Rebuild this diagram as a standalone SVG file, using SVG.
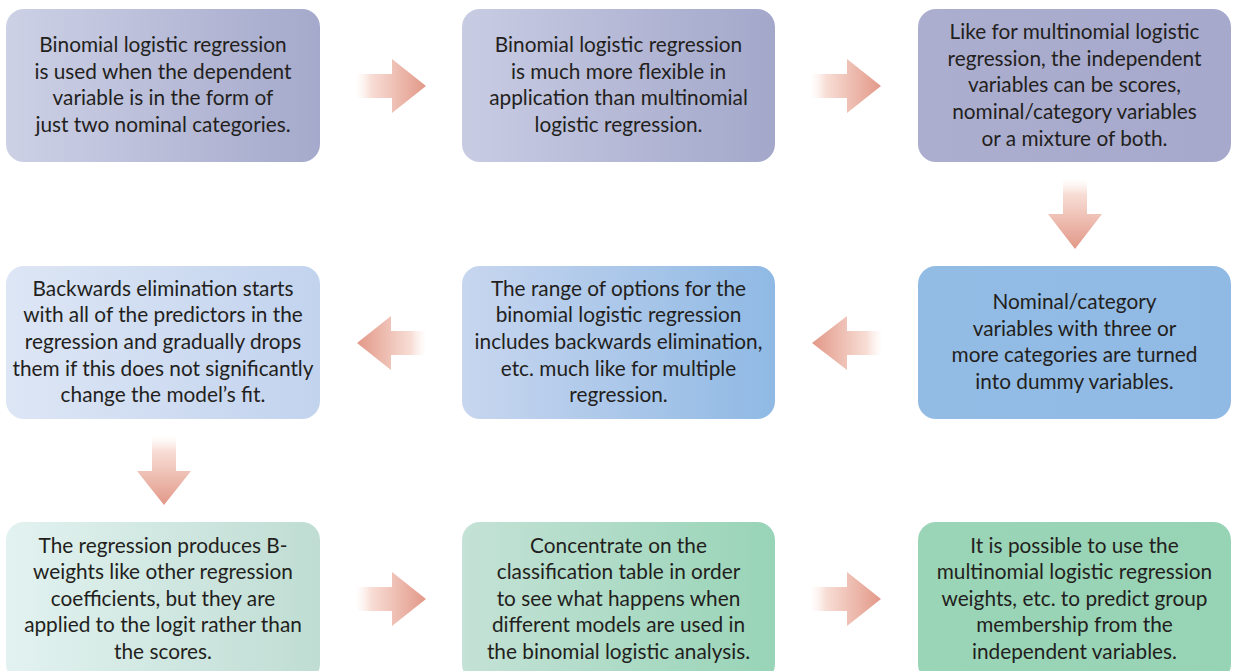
<svg xmlns="http://www.w3.org/2000/svg" width="1236" height="671" viewBox="0 0 1236 671">
  <style>
    .lbl { font-family: Lato, "Open Sans", sans-serif; font-size: 20.8px; fill: #231f20; text-anchor: middle; }
  </style>
  <defs>
    <linearGradient id="g1a" x1="0" y1="0" x2="1" y2="0"><stop offset="0" stop-color="#cdd1e6"/><stop offset="1" stop-color="#a5a9cb"/></linearGradient>
    <linearGradient id="g1b" x1="0" y1="0" x2="1" y2="0"><stop offset="0" stop-color="#c8cce3"/><stop offset="1" stop-color="#a3a7ca"/></linearGradient>
    <linearGradient id="g1c" x1="0" y1="0" x2="1" y2="0"><stop offset="0" stop-color="#acaecf"/><stop offset="1" stop-color="#a6a9cc"/></linearGradient>
    <linearGradient id="g2a" x1="0" y1="0" x2="1" y2="0"><stop offset="0" stop-color="#dde6f5"/><stop offset="1" stop-color="#c2d3ee"/></linearGradient>
    <linearGradient id="g2b" x1="0" y1="0" x2="1" y2="0"><stop offset="0" stop-color="#c8d6ef"/><stop offset="1" stop-color="#8fb9e4"/></linearGradient>
    <linearGradient id="g2c" x1="0" y1="0" x2="1" y2="0"><stop offset="0" stop-color="#93bce5"/><stop offset="1" stop-color="#90bae4"/></linearGradient>
    <linearGradient id="g3a" x1="0" y1="0" x2="1" y2="0"><stop offset="0" stop-color="#e2f2f0"/><stop offset="1" stop-color="#bfddd3"/></linearGradient>
    <linearGradient id="g3b" x1="0" y1="0" x2="1" y2="0"><stop offset="0" stop-color="#c4e2d6"/><stop offset="1" stop-color="#98d4b7"/></linearGradient>
    <linearGradient id="g3c" x1="0" y1="0" x2="1" y2="0"><stop offset="0" stop-color="#9bd5b8"/><stop offset="1" stop-color="#97d3b5"/></linearGradient>
    <!-- arrow fills fade from white at the tail to salmon at the tip -->
    <linearGradient id="arR" x1="0" y1="0" x2="1" y2="0"><stop offset="0" stop-color="#fdf3ef" stop-opacity="0.2"/><stop offset="0.2" stop-color="#f8ded6"/><stop offset="1" stop-color="#e29888"/></linearGradient>
    <linearGradient id="arL" x1="1" y1="0" x2="0" y2="0"><stop offset="0" stop-color="#fdf3ef" stop-opacity="0.2"/><stop offset="0.2" stop-color="#f8ded6"/><stop offset="1" stop-color="#e29888"/></linearGradient>
    <linearGradient id="arD" x1="0" y1="0" x2="0" y2="1"><stop offset="0" stop-color="#fdf3ef" stop-opacity="0.2"/><stop offset="0.2" stop-color="#f8ded6"/><stop offset="1" stop-color="#e29888"/></linearGradient>
  </defs>

  <g id="connectors">
    <path fill="url(#arR)" d="M357,74 H392 V59 L426,86 L392,113 V98 H357 Z"/>
    <path fill="url(#arR)" d="M812,74 H847 V59 L881,86 L847,113 V98 H812 Z"/>
    <path fill="url(#arD)" d="M1063,180 V214 H1048 L1075,249 L1102,214 H1087 V180 Z"/>
    <path fill="url(#arL)" d="M881,331 H847 V316 L812,343 L847,370 V355 H881 Z"/>
    <path fill="url(#arL)" d="M425,331 H391 V316 L357,343 L391,370 V355 H425 Z"/>
    <path fill="url(#arD)" d="M152,437 V471 H137 L164,505 L191,471 H176 V437 Z"/>
    <path fill="url(#arR)" d="M357,587 H392 V572 L426,599 L392,626 V611 H357 Z"/>
    <path fill="url(#arR)" d="M812,587 H847 V572 L881,599 L847,626 V611 H812 Z"/>
  </g>

  <g id="node1">
    <rect x="6" y="9" width="314" height="153" rx="18" fill="url(#g1a)"/>
    <text class="lbl" x="163" y="52">Binomial logistic regression</text>
    <text class="lbl" x="163" y="79">is used when the dependent</text>
    <text class="lbl" x="163" y="105">variable is in the form of</text>
    <text class="lbl" x="163" y="132">just two nominal categories.</text>
  </g>
  <g id="node2">
    <rect x="462" y="9" width="313" height="153" rx="18" fill="url(#g1b)"/>
    <text class="lbl" x="618.5" y="52">Binomial logistic regression</text>
    <text class="lbl" x="618.5" y="79">is much more flexible in</text>
    <text class="lbl" x="618.5" y="105">application than multinomial</text>
    <text class="lbl" x="618.5" y="132">logistic regression.</text>
  </g>
  <g id="node3">
    <rect x="918" y="9" width="313" height="153" rx="18" fill="url(#g1c)"/>
    <text class="lbl" x="1074.5" y="39">Like for multinomial logistic</text>
    <text class="lbl" x="1074.5" y="66">regression, the independent</text>
    <text class="lbl" x="1074.5" y="92">variables can be scores,</text>
    <text class="lbl" x="1074.5" y="119">nominal/category variables</text>
    <text class="lbl" x="1074.5" y="146">or a mixture of both.</text>
  </g>
  <g id="node4">
    <rect x="6" y="266" width="314" height="153" rx="18" fill="url(#g2a)"/>
    <text class="lbl" x="163" y="296">Backwards elimination starts</text>
    <text class="lbl" x="163" y="322">with all of the predictors in the</text>
    <text class="lbl" x="163" y="349">regression and gradually drops</text>
    <text class="lbl" x="163" y="376">them if this does not significantly</text>
    <text class="lbl" x="163" y="402">change the model’s fit.</text>
  </g>
  <g id="node5">
    <rect x="462" y="266" width="313" height="153" rx="18" fill="url(#g2b)"/>
    <text class="lbl" x="618.5" y="296">The range of options for the</text>
    <text class="lbl" x="618.5" y="322">binomial logistic regression</text>
    <text class="lbl" x="618.5" y="349">includes backwards elimination,</text>
    <text class="lbl" x="618.5" y="376">etc. much like for multiple</text>
    <text class="lbl" x="618.5" y="402">regression.</text>
  </g>
  <g id="node6">
    <rect x="918" y="266" width="313" height="153" rx="18" fill="url(#g2c)"/>
    <text class="lbl" x="1074.5" y="309">Nominal/category</text>
    <text class="lbl" x="1074.5" y="336">variables with three or</text>
    <text class="lbl" x="1074.5" y="362">more categories are turned</text>
    <text class="lbl" x="1074.5" y="389">into dummy variables.</text>
  </g>
  <g id="node7">
    <rect x="6" y="522" width="314" height="160" rx="18" fill="url(#g3a)"/>
    <text class="lbl" x="163" y="553">The regression produces B-</text>
    <text class="lbl" x="163" y="579">weights like other regression</text>
    <text class="lbl" x="163" y="606">coefficients, but they are</text>
    <text class="lbl" x="163" y="632">applied to the logit rather than</text>
    <text class="lbl" x="163" y="659">the scores.</text>
  </g>
  <g id="node8">
    <rect x="462" y="522" width="313" height="160" rx="18" fill="url(#g3b)"/>
    <text class="lbl" x="618.5" y="553">Concentrate on the</text>
    <text class="lbl" x="618.5" y="579">classification table in order</text>
    <text class="lbl" x="618.5" y="606">to see what happens when</text>
    <text class="lbl" x="618.5" y="632">different models are used in</text>
    <text class="lbl" x="618.5" y="659">the binomial logistic analysis.</text>
  </g>
  <g id="node9">
    <rect x="918" y="522" width="313" height="160" rx="18" fill="url(#g3c)"/>
    <text class="lbl" x="1074.5" y="553">It is possible to use the</text>
    <text class="lbl" x="1074.5" y="579">multinomial logistic regression</text>
    <text class="lbl" x="1074.5" y="606">weights, etc. to predict group</text>
    <text class="lbl" x="1074.5" y="632">membership from the</text>
    <text class="lbl" x="1074.5" y="659">independent variables.</text>
  </g>
</svg>
